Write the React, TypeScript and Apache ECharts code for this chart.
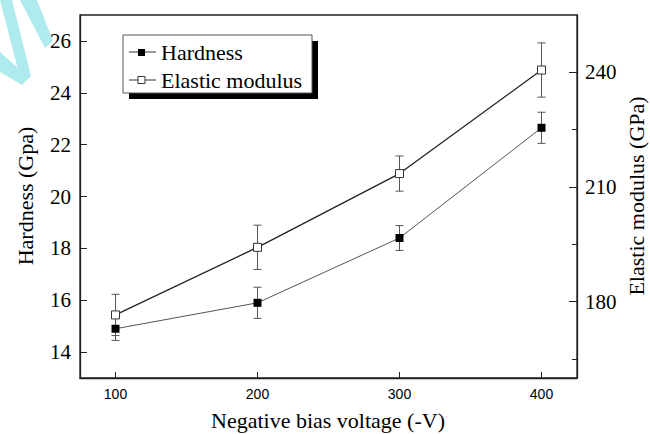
import React, { useEffect, useRef } from "react";
import * as echarts from "echarts";

const voltages = [100, 200, 300, 400];
const hardness = [14.9, 15.9, 18.4, 22.65];
const hardnessErr = [0.45, 0.6, 0.48, 0.6];
const modulus = [176.5, 194.2, 213.5, 240.6];
const modulusErr = [5.4, 5.8, 4.6, 7.1];

const xTicks = [100, 200, 300, 400];
const leftTicks = [14, 16, 18, 20, 22, 24, 26];
const rightMajorTicks = [180, 210, 240];
const rightMinorTicks = [165, 195, 225];

const SERIF = "'Liberation Serif', 'Times New Roman', serif";
const SANS = "'Liberation Sans', Arial, sans-serif";

function errorBarSeries(name: string, values: number[], errs: number[], yAxisIndex: number) {
  return {
    type: "custom",
    name,
    yAxisIndex,
    z: 1,
    silent: true,
    data: voltages.map((v, i) => [v, values[i] - errs[i], values[i] + errs[i]]),
    encode: { x: 0, y: [1, 2] },
    renderItem: (params: any, api: any) => {
      const x = api.value(0);
      const lo = api.value(1);
      const hi = api.value(2);
      const p1 = api.coord([x, hi]);
      const p2 = api.coord([x, lo]);
      const w = 4;
      const style = { stroke: "#555", lineWidth: 1 };
      return {
        type: "group",
        children: [
          { type: "line", shape: { x1: p1[0], y1: p1[1], x2: p2[0], y2: p2[1] }, style },
          { type: "line", shape: { x1: p1[0] - w, y1: p1[1], x2: p1[0] + w, y2: p1[1] }, style },
          { type: "line", shape: { x1: p2[0] - w, y1: p2[1], x2: p2[0] + w, y2: p2[1] }, style },
        ],
      };
    },
  };
}

export default function App() {
  const ref = useRef<HTMLDivElement>(null);
  useEffect(() => {
    if (!ref.current) return;
    const chart = echarts.init(ref.current, null, { renderer: "svg" });
    const axisLine = { show: true, lineStyle: { color: "#222", width: 1.3 } };
    chart.setOption({
      animation: false,
      backgroundColor: "#fff",
      grid: { left: 80, top: 15, right: 73, bottom: 56, show: true, borderColor: "#222", borderWidth: 1.3 },
      xAxis: {
        type: "value",
        min: 75,
        max: 425,
        axisLine,
        splitLine: { show: false },
        axisTick: { show: true, inside: true, length: 6, customValues: xTicks, lineStyle: { color: "#222" } },
        axisLabel: { customValues: xTicks, fontFamily: SANS, fontSize: 14, color: "#000", margin: 9 },
      },
      yAxis: [
        {
          type: "value",
          position: "left",
          min: 13,
          max: 27,
          axisLine,
          splitLine: { show: false },
          axisTick: { show: true, inside: true, length: 7, customValues: leftTicks, lineStyle: { color: "#222" } },
          axisLabel: { customValues: leftTicks, fontFamily: SERIF, fontSize: 21, color: "#000", margin: 9 },
        },
        {
          type: "value",
          position: "right",
          min: 160,
          max: 255,
          axisLine,
          splitLine: { show: false },
          axisTick: { show: true, inside: true, length: 8, customValues: rightMajorTicks, lineStyle: { color: "#222" } },
          axisLabel: { customValues: rightMajorTicks, fontFamily: SERIF, fontSize: 21, color: "#000", margin: 8 },
        },
        {
          type: "value",
          position: "right",
          min: 160,
          max: 255,
          axisLine: { show: false },
          splitLine: { show: false },
          axisTick: { show: true, inside: true, length: 5, customValues: rightMinorTicks, lineStyle: { color: "#222" } },
          axisLabel: { show: false },
        },
      ],
      series: [
        errorBarSeries("hErr", hardness, hardnessErr, 0),
        errorBarSeries("mErr", modulus, modulusErr, 1),
        {
          type: "line",
          name: "Hardness",
          yAxisIndex: 0,
          z: 3,
          data: voltages.map((v, i) => [v, hardness[i]]),
          symbol: "rect",
          symbolSize: 8,
          itemStyle: { color: "#000" },
          lineStyle: { color: "#555", width: 1 },
        },
        {
          type: "line",
          name: "Elastic modulus",
          yAxisIndex: 1,
          z: 3,
          data: voltages.map((v, i) => [v, modulus[i]]),
          symbol: "rect",
          symbolSize: 8,
          itemStyle: { color: "#fff", borderColor: "#333", borderWidth: 1 },
          lineStyle: { color: "#222", width: 1.3 },
        },
      ],
      graphic: [
        { type: "polygon", shape: { points: [[20, 0], [37, 0], [53, 41], [45, 48]] }, style: { fill: "#aeeaee" }, z: 0 },
        { type: "polygon", shape: { points: [[0, 0], [12, 0], [31, 76], [22, 85]] }, style: { fill: "#aeeaee" }, z: 0 },
        { type: "polygon", shape: { points: [[0, 52], [0, 72], [22, 85], [28, 77]] }, style: { fill: "#aeeaee" }, z: 0 },
        { type: "rect", shape: { x: 129, y: 41, width: 189, height: 58 }, style: { fill: "#000" }, z: 10 },
        { type: "rect", shape: { x: 123, y: 35, width: 189, height: 58 }, style: { fill: "#fff", stroke: "#555", lineWidth: 1 }, z: 11 },
        { type: "line", shape: { x1: 129, y1: 52, x2: 156, y2: 52 }, style: { stroke: "#333", lineWidth: 1 }, z: 12 },
        { type: "rect", shape: { x: 138, y: 49, width: 7, height: 7 }, style: { fill: "#000" }, z: 13 },
        { type: "text", x: 161, y: 52, style: { text: "Hardness", font: `22px ${SERIF}`, fill: "#000", textAlign: "left", textVerticalAlign: "middle" }, z: 13 },
        { type: "line", shape: { x1: 129, y1: 80, x2: 156, y2: 80 }, style: { stroke: "#333", lineWidth: 1 }, z: 12 },
        { type: "rect", shape: { x: 138, y: 76.5, width: 7, height: 7 }, style: { fill: "#fff", stroke: "#333", lineWidth: 1 }, z: 13 },
        { type: "text", x: 161, y: 80, style: { text: "Elastic modulus", font: `22px ${SERIF}`, fill: "#000", textAlign: "left", textVerticalAlign: "middle" }, z: 13 },
        { type: "text", x: 25, y: 196, rotation: Math.PI / 2, style: { text: "Hardness (Gpa)", font: `22px ${SERIF}`, fill: "#000", textAlign: "center", textVerticalAlign: "middle" } },
        { type: "text", x: 636, y: 196, rotation: Math.PI / 2, style: { text: "Elastic modulus (GPa)", font: `22px ${SERIF}`, fill: "#000", textAlign: "center", textVerticalAlign: "middle" } },
        { type: "text", x: 328, y: 420, style: { text: "Negative bias voltage (-V)", font: `22px ${SERIF}`, fill: "#000", textAlign: "center", textVerticalAlign: "middle" } },
      ],
    });
    return () => chart.dispose();
  }, []);
  return <div ref={ref} style={{ width: 650, height: 434, position: "absolute", left: 0, top: 0 }} />;
}
